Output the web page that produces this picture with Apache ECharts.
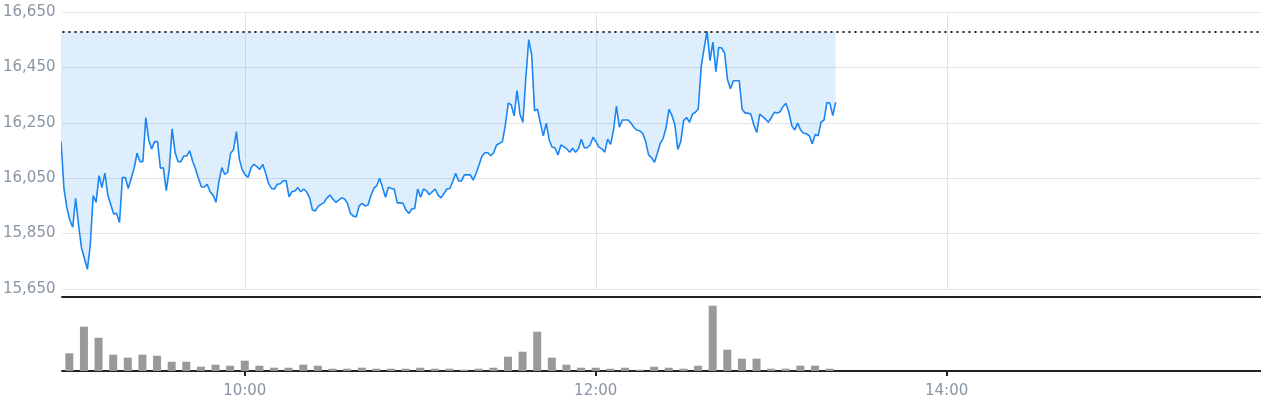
<!DOCTYPE html>
<html>
<head>
<meta charset="utf-8">
<script src="https://cdn.jsdelivr.net/npm/echarts@6/dist/echarts.min.js"></script>
<style>
  html, body { margin: 0; padding: 0; background: #fff; }
  #chart { width: 1261px; height: 400px; }
</style>
</head>
<body>
<div id="chart"></div>
<script>
// intraday price, one reading per minute
const priceTimes = [
  '8:57','8:58','8:59','9:00','9:01','9:02','9:03','9:04','9:06','9:07','9:08','9:09','9:10','9:11','9:12','9:13',
  '9:15','9:16','9:17','9:18','9:19','9:20','9:22','9:23','9:24','9:25','9:26','9:27','9:28','9:29','9:30','9:31',
  '9:32','9:33','9:34','9:35','9:36','9:37','9:38','9:39','9:40','9:41','9:42','9:43','9:44','9:45','9:46','9:47',
  '9:48','9:49','9:50','9:51','9:52','9:53','9:54','9:55','9:56','9:57','9:58','9:59','10:00','10:01','10:02','10:03',
  '10:04','10:05','10:06','10:07','10:08','10:09','10:10','10:11','10:12','10:13','10:14','10:15','10:16','10:17','10:18','10:19',
  '10:20','10:21','10:22','10:23','10:24','10:25','10:27','10:28','10:29','10:30','10:31','10:32','10:33','10:34','10:35','10:36',
  '10:37','10:38','10:39','10:40','10:41','10:42','10:43','10:44','10:45','10:46','10:47','10:48','10:49','10:50','10:51','10:52',
  '10:53','10:54','10:55','10:56','10:57','10:58','10:59','11:00','11:01','11:02','11:03','11:04','11:05','11:06','11:07','11:08',
  '11:09','11:10','11:11','11:12','11:13','11:14','11:15','11:16','11:17','11:18','11:19','11:20','11:21','11:22','11:23','11:24',
  '11:25','11:26','11:28','11:29','11:30','11:31','11:32','11:33','11:34','11:35','11:36','11:37','11:38','11:39','11:40','11:41',
  '11:42','11:43','11:44','11:45','11:46','11:47','11:48','11:49','11:50','11:51','11:52','11:53','11:54','11:55','11:56','11:57',
  '11:58','11:59','12:00','12:01','12:02','12:03','12:04','12:05','12:06','12:07','12:08','12:09','12:10','12:11','12:12','12:13',
  '12:14','12:15','12:16','12:17','12:18','12:19','12:20','12:21','12:22','12:23','12:24','12:25','12:26','12:27','12:28','12:29',
  '12:30','12:31','12:32','12:33','12:34','12:35','12:36','12:37','12:38','12:39','12:40','12:41','12:42','12:43','12:44','12:45',
  '12:46','12:47','12:49','12:50','12:51','12:52','12:53','12:54','12:55','12:56','12:57','12:58','12:59','13:00','13:01','13:02',
  '13:03','13:04','13:05','13:06','13:07','13:08','13:09','13:10','13:11','13:12','13:13','13:14','13:15','13:16','13:17','13:18',
  '13:19','13:20','13:21','13:22'
]
const priceValues = [
  16182,16013,15943,15899,15873,15977,15881,15799,15721,15808,15987,15963,16059,16016,16068,15989,
  15921,15923,15890,16052,16052,16013,16086,16140,16110,16110,16269,16188,16155,16182,16182,16086,
  16088,16005,16080,16228,16144,16110,16110,16130,16130,16149,16112,16083,16050,16019,16018,16028,
  16001,15989,15963,16037,16088,16064,16071,16140,16152,16218,16119,16080,16062,16053,16088,16100,
  16092,16082,16100,16068,16031,16013,16011,16028,16030,16041,16041,15983,16001,16004,16016,16001,
  16011,16001,15981,15935,15932,15949,15963,15979,15989,15975,15963,15971,15979,15975,15959,15923,
  15913,15911,15950,15959,15950,15953,15987,16013,16023,16050,16016,15981,16017,16013,16011,15961,
  15961,15959,15935,15923,15939,15941,16011,15981,16011,16005,15990,16001,16011,15989,15979,15995,
  16011,16013,16037,16068,16040,16040,16062,16062,16062,16043,16068,16098,16130,16142,16142,16131,
  16142,16170,16182,16242,16321,16315,16275,16366,16281,16252,16411,16550,16496,16293,16299,16249,
  16203,16249,16188,16162,16160,16134,16170,16164,16156,16144,16158,16144,16156,16191,16160,16160,
  16170,16198,16182,16162,16156,16144,16191,16172,16224,16310,16234,16260,16260,16260,16249,16233,
  16223,16221,16212,16182,16134,16124,16107,16140,16176,16194,16233,16299,16276,16242,16154,16182,
  16258,16269,16252,16281,16288,16300,16453,16520,16580,16474,16541,16435,16522,16520,16502,16405,
  16373,16402,16402,16299,16285,16285,16281,16242,16215,16281,16272,16263,16252,16269,16288,16285,
  16290,16309,16320,16288,16239,16224,16249,16224,16212,16211,16203,16174,16208,16203,16252,16260,
  16323,16321,16276,16324
]

// 5-minute volume bars, 9:00 .. 13:20 (relative units)
const volumeTimes = [
  '9:00','9:05','9:10','9:15','9:20','9:25','9:30','9:35','9:40','9:45','9:50','9:55',
  '10:00','10:05','10:10','10:15','10:20','10:25','10:30','10:35','10:40','10:45','10:50','10:55',
  '11:00','11:05','11:10','11:15','11:20','11:25','11:30','11:35','11:40','11:45','11:50','11:55',
  '12:00','12:05','12:10','12:15','12:20','12:25','12:30','12:35','12:40','12:45','12:50','12:55',
  '13:00','13:05','13:10','13:15','13:20'
]
const volumeValues = [
  177,443,333,163,133,163,153,93,93,43,63,53,
  103,53,33,33,63,53,23,23,33,23,23,23,
  33,23,23,13,23,33,143,193,393,133,63,33,
  33,23,33,13,43,33,23,53,653,213,123,123,
  23,23,53,53,23
]

const tickTimes = ['10:00', '12:00', '14:00']
const yTicks = [15650, 15850, 16050, 16250, 16450, 16650]

const axisStart = '8:57:30'
const axisEnd = '15:47:30'

function toMinutes(t) {
  const p = t.split(':').map(Number)
  return p[0] * 60 + p[1] + (p[2] || 0) / 60
}

function fmtTime(m) {
  const h = Math.floor(m / 60)
  const mm = Math.round(m - h * 60)
  return h + ':' + String(mm).padStart(2, '0')
}

const FONT = 'DejaVu Sans'
const labelColor = '#8a95a2'
const gridColor = '#e2e2e8'
const axisDark = '#222222'

const xMin = toMinutes(axisStart)
const xMax = toMinutes(axisEnd)
const tickMins = tickTimes.map(toMinutes)
const priceData = priceTimes.map((t, i) => [toMinutes(t), priceValues[i]])
const volumeData = volumeTimes.map((t, i) => [toMinutes(t), volumeValues[i]])
const priceMax = Math.max(...priceValues)

const chart = echarts.init(document.getElementById('chart'))

chart.setOption({
  animation: false,
  grid: [
    { left: 62, right: 0, top: 12, height: 277 },
    { left: 62, right: 0, top: 297, height: 74 }
  ],
  xAxis: [
    {
      type: 'value',
      gridIndex: 0,
      min: xMin,
      max: xMax,
      axisLine: { show: false },
      axisTick: { show: false, customValues: tickMins },
      axisLabel: { show: false, customValues: tickMins },
      splitLine: { show: true, lineStyle: { color: gridColor, width: 1 } }
    },
    {
      type: 'value',
      gridIndex: 1,
      position: 'bottom',
      min: xMin,
      max: xMax,
      axisLine: { show: true, lineStyle: { color: axisDark, width: 2 } },
      axisTick: { show: true, length: 5, lineStyle: { color: axisDark, width: 2 }, customValues: tickMins },
      axisLabel: {
        show: true,
        customValues: tickMins,
        margin: 13,
        color: labelColor,
        fontFamily: FONT,
        fontSize: 15,
        formatter: (v) => fmtTime(v)
      },
      splitLine: { show: false }
    },
    {
      type: 'value',
      gridIndex: 1,
      position: 'top',
      min: xMin,
      max: xMax,
      axisLine: { show: true, onZero: false, lineStyle: { color: axisDark, width: 2 } },
      axisTick: { show: false },
      axisLabel: { show: false },
      splitLine: { show: false }
    }
  ],
  yAxis: [
    {
      type: 'value',
      gridIndex: 0,
      min: yTicks[0],
      max: yTicks[yTicks.length - 1],
      interval: yTicks[1] - yTicks[0],
      axisLine: { show: false },
      axisTick: { show: false },
      axisLabel: {
        color: labelColor,
        fontFamily: FONT,
        fontSize: 15,
        margin: 7,
        formatter: (v) => v.toLocaleString('en-US')
      },
      splitLine: { lineStyle: { color: gridColor, width: 1 } }
    },
    {
      type: 'value',
      gridIndex: 1,
      min: 0,
      max: 740,
      axisLine: { show: false },
      axisTick: { show: false },
      axisLabel: { show: false },
      splitLine: { show: false }
    }
  ],
  series: [
    {
      name: 'Price',
      type: 'line',
      xAxisIndex: 0,
      yAxisIndex: 0,
      data: priceData,
      showSymbol: false,
      lineStyle: { color: '#1a86f2', width: 1.6 },
      areaStyle: { color: 'rgba(30,136,240,0.2)', origin: priceMax },
      markLine: {
        silent: true,
        symbol: ['none', 'none'],
        label: { show: false },
        lineStyle: { color: axisDark, type: [2, 4], width: 2 },
        data: [{ yAxis: priceMax }]
      },
      z: 3
    },
    {
      name: 'Volume',
      type: 'bar',
      xAxisIndex: 1,
      yAxisIndex: 1,
      data: volumeData,
      barWidth: 8,
      itemStyle: { color: '#999999' }
    }
  ]
})
</script>
</body>
</html>
